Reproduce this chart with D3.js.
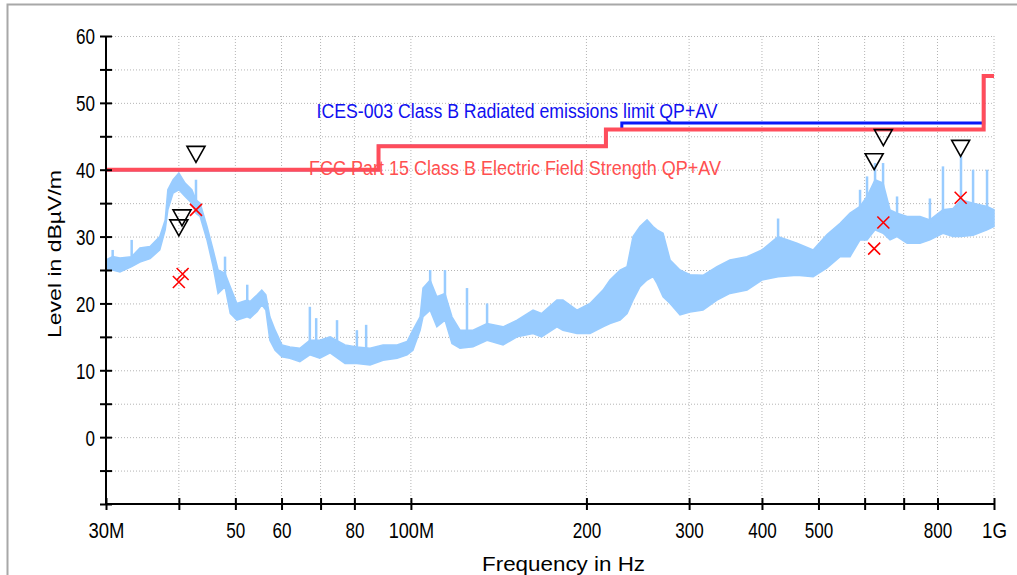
<!DOCTYPE html>
<html>
<head>
<meta charset="utf-8">
<script src="https://cdn.jsdelivr.net/npm/d3@7"></script>
<style>
  html, body { margin: 0; padding: 0; background: #fff; overflow: hidden; }
  svg { display: block; }
</style>
</head>
<body>
<svg id="chart" width="1017" height="575"></svg>
<script>
// ---- data (MHz, dBµV/m) ----
const envFreq = [30.0,30.8,31.7,33.2,34.3,35.7,37.1,37.9,38.3,39.1,40.0,41.0,42.1,42.8,43.5,44.7,45.8,46.7,48.0,49.0,50.3,52.4,53.0,54.5,55.5,56.4,57.3,58.5,60.1,62.0,64.5,67.1,69.8,72.7,77.1,80.8,85.1,89.6,94.7,98.5,100.8,103.7,104.9,107.9,110.8,114.4,117.6,121.4,127.8,135.1,143.9,152.1,162.0,167.5,178.0,182.3,192.7,202.8,213.5,219.5,228.4,234.8,240.4,247.1,254.1,260.2,264.3,270.7,278.3,289.4,301,316.9,334.9,352.5,377.1,400,426.3,459.3,489.6,517.2,544.6,566.4,589.2,605.7,625.2,645.3,663.3,681.9,709.5,746.7,776.4,817.5,850.5,877.8,920.7,972.9,1000];
const envLo = [25,25,24.7,25.5,26.2,26.7,28,31,34,36.5,37,36,35,33.5,33,29.5,25.5,21.5,22.5,18.5,17.5,18,17.8,18.8,19.8,19,14.5,13,12,11.8,11.3,12.3,11.8,12.6,11,11,10.8,11.5,11.8,12.3,13,16,18,19,16.5,17.5,14,13.3,13.5,14.5,13.8,15,15.5,15,16.5,16,15.5,15.5,16.5,17,17.5,18.5,20.5,22.5,23.5,24,23,21,20,18.3,18.7,19,20.5,21.5,22,23.5,24,24.2,24,25.3,27,27,29.5,29.5,31,30.5,29.5,30,29,29,29.5,30.5,30,30,30.2,31,31.5];
const envHi = [26.5,27,26.8,27,28.3,28.5,30,32.5,37,38.5,39.5,38,37,35.5,35,31.5,28,25,24.5,22.5,20,20.5,20.3,21.3,22,21.3,18,16,13.8,13.5,13.3,14.5,14.5,15,13.8,13.5,13.3,13.8,13.8,14.3,16,18,22.3,23.5,21,21.5,18,16,16,17,16.5,17.5,19,18.5,20.5,20.5,19,20,22,23.5,25,25.5,30,31.5,32.5,31.5,31,30.5,26.5,25,24.3,24.2,25.5,26.5,27,28,30,29,28,30.3,32,33.5,34.5,36,38.5,38,34,33.5,33,33,32.5,34,34.2,35.5,35,34.5,34];
const spikeFreq = [30.8,33.2,42.8,48.0,52.4,67.1,68.8,74.7,80.8,83.8,107.9,114.4,124.8,135.1,426.3,589.2,605.7,625.2,645.3,681.9,776.4,817.5,877.8,920.7,972.9];
const spikePeak = [28,29.5,38.5,27,22.8,19.5,17.8,17.5,16,16.8,25,25,22.3,20,32.7,37,39,41,41,36,35.7,40.5,42,40,40];

const fccBreaks = [30, 88, 216, 960, 1000];
const fccLimits = [40, 43.5, 46, 54];
const icesBreaks = [30, 88, 216, 230, 960, 1000];
const icesLimits = [40, 43.5, 46, 47, 54];

const pkFreq = [42.8, 40.5, 40.0, 646, 623, 876.6];
const pkLevel = [41.1, 31.6, 30.1, 43.6, 40.0, 42.0];
const avFreq = [42.8, 40.6, 40.0, 623, 646, 876.6];
const avLevel = [34.0, 24.4, 23.2, 28.2, 32.1, 35.8];

const xTickValues = [30, 40, 50, 60, 70, 80, 100, 200, 300, 400, 500, 600, 700, 800, 1000];
const xTickLabels = {30: "30M", 50: "50", 60: "60", 80: "80", 100: "100M", 200: "200", 300: "300", 400: "400", 500: "500", 800: "800", 1000: "1G"};
const yMajor = [0, 10, 20, 30, 40, 50, 60];
const yAll = [-10, -5, 0, 5, 10, 15, 20, 25, 30, 35, 40, 45, 50, 55, 60];

const icesLabel = "ICES-003 Class B Radiated emissions limit QP+AV";
const fccLabel = "FCC Part 15 Class B Electric Field Strength QP+AV";

// ---- drawing ----
const svg = d3.select("#chart");
const x = d3.scaleLog().domain([30, 1000]).range([106, 994]);
const y = d3.scaleLinear().domain([-10, 60]).range([504, 36]);
const tickFont = "'Liberation Sans', Arial, sans-serif";
// narrow bitmap-like tick font: fix label widths
function labelWidth(s) {
  if (s === "1G") return 25;
  let w = 0;
  for (const c of s) w += (c === "M") ? 17 : 9.5;
  return w;
}

// outer frame
svg.append("rect").attr("x", 7.5).attr("y", 4.5).attr("width", 1040).attr("height", 620)
  .attr("fill", "none").attr("stroke", "#a8a8a8").attr("stroke-width", 2);

// grid
const grid = svg.append("g");
grid.selectAll(".vg").data(xTickValues.filter(d => d !== 30)).enter().append("line")
  .attr("x1", d => x(d)).attr("x2", d => x(d)).attr("y1", y(60)).attr("y2", y(-10))
  .attr("stroke", "#b4b4b4").attr("stroke-width", 1).attr("stroke-dasharray", "1,2");
grid.selectAll(".hg").data(yAll.filter(d => d !== -10)).enter().append("line")
  .attr("x1", x(30)).attr("x2", x(1000)).attr("y1", d => y(d) + 0.5).attr("y2", d => y(d) + 0.5)
  .attr("stroke", "#b4b4b4").attr("stroke-width", 1).attr("stroke-dasharray", "1,2");

// spectrum trace
const area = d3.area()
  .x((d, i) => x(envFreq[i]))
  .y0((d, i) => y(envLo[i]))
  .y1((d, i) => y(envHi[i]));
svg.append("path").datum(envFreq).attr("d", area)
  .attr("fill", "#99ccff").attr("stroke", "#99ccff").attr("stroke-width", 1.5);

function hiAt(f) {
  const i = d3.bisectLeft(envFreq, f);
  if (i <= 0) return envHi[0];
  if (i >= envFreq.length) return envHi[envHi.length - 1];
  const t = (Math.log(f) - Math.log(envFreq[i - 1])) / (Math.log(envFreq[i]) - Math.log(envFreq[i - 1]));
  return envHi[i - 1] + t * (envHi[i] - envHi[i - 1]);
}
svg.append("g").selectAll("line").data(spikeFreq).enter().append("line")
  .attr("x1", d => x(d)).attr("x2", d => x(d))
  .attr("y1", (d, i) => y(spikePeak[i])).attr("y2", d => y(hiAt(d)) + 4)
  .attr("stroke", "#99ccff").attr("stroke-width", 2.5);

// limit lines
const icesData = icesBreaks.map((f, i) => [f, icesLimits[Math.min(i, icesLimits.length - 1)]]);
const fccData = fccBreaks.map((f, i) => [f, fccLimits[Math.min(i, fccLimits.length - 1)]]);
const stepLine = d3.line().x(d => x(d[0])).y(d => y(d[1])).curve(d3.curveStepAfter);
svg.append("path").datum(icesData).attr("d", stepLine)
  .attr("fill", "none").attr("stroke", "#0818f8").attr("stroke-width", 3);
svg.append("path").datum(fccData).attr("d", stepLine)
  .attr("fill", "none").attr("stroke", "#ff4d5b").attr("stroke-width", 4);

// limit labels
svg.append("text").attr("x", 316.5).attr("y", 118).text(icesLabel)
  .attr("font-family", "'Liberation Sans', Arial, sans-serif").attr("font-size", 20)
  .attr("fill", "#1010f0").attr("textLength", 401).attr("lengthAdjust", "spacingAndGlyphs");
svg.append("text").attr("x", 309).attr("y", 175).text(fccLabel)
  .attr("font-family", "'Liberation Sans', Arial, sans-serif").attr("font-size", 20)
  .attr("fill", "#ff5050").attr("textLength", 412).attr("lengthAdjust", "spacingAndGlyphs");

// markers: peak triangles
const tri = (cx, cy) => `M${cx - 9},${cy - 16}L${cx + 9},${cy - 16}L${cx},${cy}Z`;
svg.append("g").selectAll("path").data(pkFreq).enter().append("path")
  .attr("d", (d, i) => tri(x(d), y(pkLevel[i])))
  .attr("fill", "none").attr("stroke", "#000").attr("stroke-width", 1.6);
// markers: QP/AV crosses
svg.append("g").selectAll("path").data(avFreq).enter().append("path")
  .attr("d", (d, i) => { const cx = x(d), cy = y(avLevel[i]); return `M${cx - 6},${cy - 6}L${cx + 6},${cy + 6}M${cx - 6},${cy + 6}L${cx + 6},${cy - 6}`; })
  .attr("fill", "none").attr("stroke", "#ff0000").attr("stroke-width", 1.6);

// axes
const xAxis = d3.axisBottom(x).tickValues(xTickValues)
  .tickFormat(d => xTickLabels[d] || "").tickSize(6).tickPadding(0);
const gx = svg.append("g").attr("transform", `translate(0,${y(-10)})`).call(xAxis);
gx.select(".domain").attr("d", `M${x(30)},0H${x(1000)}`).attr("stroke", "#000").attr("stroke-width", 2);
gx.selectAll(".tick line").attr("y1", -6).attr("y2", 6).attr("stroke", "#000").attr("stroke-width", 2);
gx.selectAll(".tick text").attr("y", 34).attr("dy", 0)
  .attr("font-family", tickFont).attr("font-size", 22).attr("fill", "#000")
  .each(function() { const s = this.textContent; if (s) d3.select(this).attr("textLength", labelWidth(s)).attr("lengthAdjust", "spacingAndGlyphs"); });

const yAxis = d3.axisLeft(y).tickValues(yAll)
  .tickFormat(d => yMajor.includes(d) ? String(d) : "").tickSize(6).tickPadding(0);
const gy = svg.append("g").attr("transform", `translate(${x(30)},0)`).call(yAxis);
gy.select(".domain").attr("d", `M0,${y(60)}V${y(-10)}`).attr("stroke", "#000").attr("stroke-width", 2);
gy.selectAll(".tick line").attr("x1", -6).attr("x2", 6).attr("stroke", "#000").attr("stroke-width", 2);
gy.selectAll(".tick text").attr("x", -11).attr("dy", "0.36em")
  .attr("font-family", tickFont).attr("font-size", 22).attr("fill", "#000")
  .each(function() { const s = this.textContent; if (s) d3.select(this).attr("textLength", labelWidth(s)).attr("lengthAdjust", "spacingAndGlyphs"); });

// axis titles
svg.append("text").attr("transform", "translate(61,254) rotate(-90)")
  .attr("text-anchor", "middle").text("Level in dBµV/m")
  .attr("font-family", "'Liberation Sans', Arial, sans-serif").attr("font-size", 18)
  .attr("textLength", 168).attr("lengthAdjust", "spacingAndGlyphs");
svg.append("text").attr("x", 482).attr("y", 571).text("Frequency in Hz")
  .attr("font-family", "'Liberation Sans', Arial, sans-serif").attr("font-size", 21)
  .attr("textLength", 163).attr("lengthAdjust", "spacingAndGlyphs");
</script>
</body>
</html>
